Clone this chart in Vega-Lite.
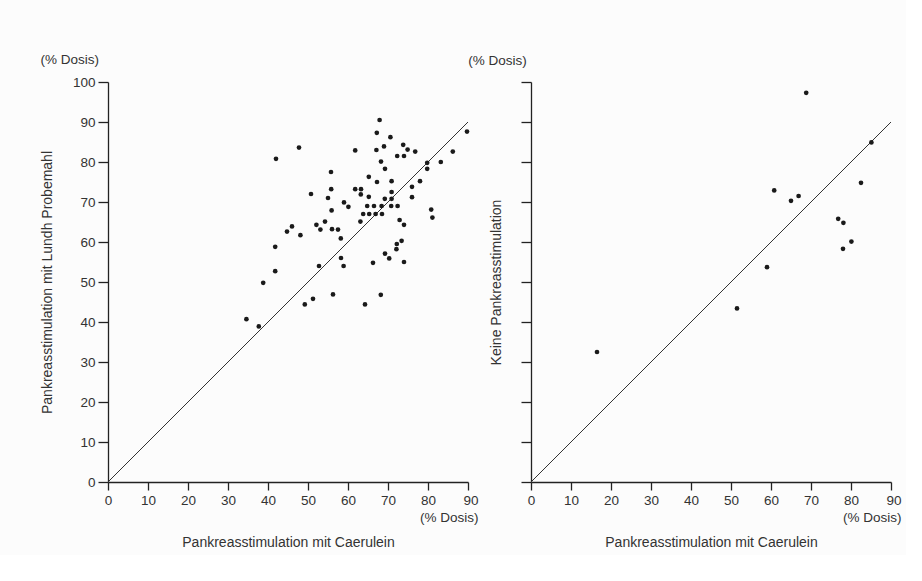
{
  "$schema": "https://vega.github.io/schema/vega-lite/v6.json",
  "background": "#fcfcfc",
  "padding": {"left": 40, "top": 52, "right": 5, "bottom": 5},
  "datasets": {
    "lundh": [
      {"x": 67.9, "y": 90.5}, {"x": 67.2, "y": 87.3}, {"x": 70.6, "y": 86.2}, {"x": 89.75, "y": 87.6},
      {"x": 47.75, "y": 83.6}, {"x": 42.0, "y": 80.8}, {"x": 61.8, "y": 82.9}, {"x": 67.1, "y": 83.0},
      {"x": 69.0, "y": 83.9}, {"x": 73.8, "y": 84.3}, {"x": 74.9, "y": 83.1}, {"x": 76.8, "y": 82.6},
      {"x": 72.3, "y": 81.5}, {"x": 74.0, "y": 81.5}, {"x": 86.2, "y": 82.6}, {"x": 68.25, "y": 80.1},
      {"x": 69.25, "y": 78.3}, {"x": 79.8, "y": 79.8}, {"x": 79.8, "y": 78.3}, {"x": 83.2, "y": 80.0},
      {"x": 55.75, "y": 77.5}, {"x": 65.2, "y": 76.3}, {"x": 67.25, "y": 75.0}, {"x": 70.9, "y": 75.2},
      {"x": 78.0, "y": 75.2}, {"x": 76.0, "y": 73.8}, {"x": 76.0, "y": 71.2}, {"x": 55.8, "y": 73.2},
      {"x": 50.75, "y": 72.0}, {"x": 55.0, "y": 71.0}, {"x": 61.8, "y": 73.2}, {"x": 63.25, "y": 73.2},
      {"x": 63.2, "y": 71.9}, {"x": 65.2, "y": 71.3}, {"x": 70.9, "y": 72.5}, {"x": 69.2, "y": 70.8},
      {"x": 70.9, "y": 70.8}, {"x": 59.0, "y": 69.9}, {"x": 60.1, "y": 68.8}, {"x": 55.9, "y": 67.9},
      {"x": 64.8, "y": 69.0}, {"x": 66.5, "y": 69.0}, {"x": 68.4, "y": 69.0}, {"x": 70.8, "y": 69.0},
      {"x": 72.4, "y": 69.0}, {"x": 63.8, "y": 67.0}, {"x": 65.3, "y": 67.0}, {"x": 66.9, "y": 67.0},
      {"x": 68.5, "y": 67.0}, {"x": 63.1, "y": 65.1}, {"x": 80.8, "y": 68.1}, {"x": 81.1, "y": 66.1},
      {"x": 72.9, "y": 65.5}, {"x": 74.0, "y": 64.3}, {"x": 46.0, "y": 63.9}, {"x": 44.75, "y": 62.6},
      {"x": 48.1, "y": 61.7}, {"x": 52.1, "y": 64.3}, {"x": 53.1, "y": 63.1}, {"x": 54.25, "y": 65.1},
      {"x": 56.0, "y": 63.2}, {"x": 57.5, "y": 63.1}, {"x": 58.2, "y": 60.9}, {"x": 73.4, "y": 60.3},
      {"x": 72.2, "y": 59.5}, {"x": 72.1, "y": 58.2}, {"x": 41.8, "y": 58.8}, {"x": 69.25, "y": 57.1},
      {"x": 70.3, "y": 55.9}, {"x": 58.25, "y": 56.0}, {"x": 58.9, "y": 54.0}, {"x": 66.25, "y": 54.8},
      {"x": 74.0, "y": 55.0}, {"x": 52.75, "y": 54.0}, {"x": 41.8, "y": 52.7}, {"x": 38.8, "y": 49.8},
      {"x": 56.25, "y": 46.9}, {"x": 68.2, "y": 46.8}, {"x": 51.25, "y": 45.8}, {"x": 49.2, "y": 44.4},
      {"x": 64.25, "y": 44.4}, {"x": 34.6, "y": 40.7}, {"x": 37.7, "y": 38.9}
    ],
    "keine": [
      {"x": 68.8, "y": 97.3}, {"x": 85.1, "y": 84.9}, {"x": 82.5, "y": 74.8}, {"x": 60.8, "y": 72.9},
      {"x": 65.0, "y": 70.3}, {"x": 66.9, "y": 71.5}, {"x": 76.8, "y": 65.8}, {"x": 78.1, "y": 64.8},
      {"x": 78.0, "y": 58.3}, {"x": 80.1, "y": 60.1}, {"x": 59.0, "y": 53.7}, {"x": 51.5, "y": 43.4},
      {"x": 16.5, "y": 32.5}
    ],
    "ident": [{"x": 0, "y": 0}, {"x": 90, "y": 90}]
  },
  "config": {
    "view": {"stroke": null},
    "font": "Liberation Sans",
    "axis": {
      "grid": false,
      "domainColor": "#222",
      "tickColor": "#222",
      "domainWidth": 1.3,
      "tickWidth": 1.3,
      "tickSize": 10,
      "labelFontSize": 13.5,
      "labelColor": "#333",
      "labelPadding": 3,
      "labelOverlap": false,
      "titleFontSize": 14,
      "titleFontWeight": "normal",
      "titleColor": "#333"
    },
    "title": {"fontSize": 13.5, "fontWeight": "normal", "color": "#333", "anchor": "start", "frame": "bounds"}
  },
  "spacing": 63,
  "bounds": "flush",
  "hconcat": [
    {
      "width": 360,
      "height": 400,
      "title": {"text": "(% Dosis)", "offset": 9},
      "encoding": {
        "x": {
          "field": "x", "type": "quantitative",
          "scale": {"domain": [0, 90], "nice": false},
          "axis": {
            "values": [0, 10, 20, 30, 40, 50, 60, 70, 80, 90],
            "labelExpr": "datum.value == 90 ? ['90', '(% Dosis)'] : datum.label",
            "labelAlign": {"expr": "datum.value == 90 ? 'right' : 'center'"},
            "labelOffset": {"expr": "datum.value == 90 ? 10 : 0"},
            "tickSize": 8,
            "labelLineHeight": 17,
            "title": "Pankreasstimulation mit Caerulein",
            "titlePadding": 12
          }
        },
        "y": {
          "field": "y", "type": "quantitative",
          "scale": {"domain": [0, 100], "nice": false},
          "axis": {
            "values": [0, 10, 20, 30, 40, 50, 60, 70, 80, 90, 100],
            "title": "Pankreasstimulation mit Lundh Probemahl",
            "titlePadding": 18
          }
        }
      },
      "layer": [
        {"data": {"name": "ident"}, "mark": {"type": "line", "color": "#333", "strokeWidth": 1}},
        {"data": {"name": "lundh"}, "mark": {"type": "circle", "size": 22, "color": "#1a1a1a", "opacity": 1}}
      ]
    },
    {
      "width": 360,
      "height": 400,
      "title": {"text": "(% Dosis)", "offset": 9, "dx": -21, "dy": -5},
      "encoding": {
        "x": {
          "field": "x", "type": "quantitative",
          "scale": {"domain": [0, 90], "nice": false},
          "axis": {
            "values": [0, 10, 20, 30, 40, 50, 60, 70, 80, 90],
            "labelExpr": "datum.value == 90 ? ['90', '(% Dosis)'] : datum.label",
            "labelAlign": {"expr": "datum.value == 90 ? 'right' : 'center'"},
            "labelOffset": {"expr": "datum.value == 90 ? 10 : 0"},
            "tickSize": 8,
            "labelLineHeight": 17,
            "title": "Pankreasstimulation mit Caerulein",
            "titlePadding": 12
          }
        },
        "y": {
          "field": "y", "type": "quantitative",
          "scale": {"domain": [0, 100], "nice": false},
          "axis": {
            "values": [0, 10, 20, 30, 40, 50, 60, 70, 80, 90, 100],
            "labels": false,
            "title": "Keine Pankreasstimulation",
            "titlePadding": 17
          }
        }
      },
      "layer": [
        {"data": {"name": "ident"}, "mark": {"type": "line", "color": "#333", "strokeWidth": 1}},
        {"data": {"name": "keine"}, "mark": {"type": "circle", "size": 22, "color": "#1a1a1a", "opacity": 1}}
      ]
    }
  ]
}
